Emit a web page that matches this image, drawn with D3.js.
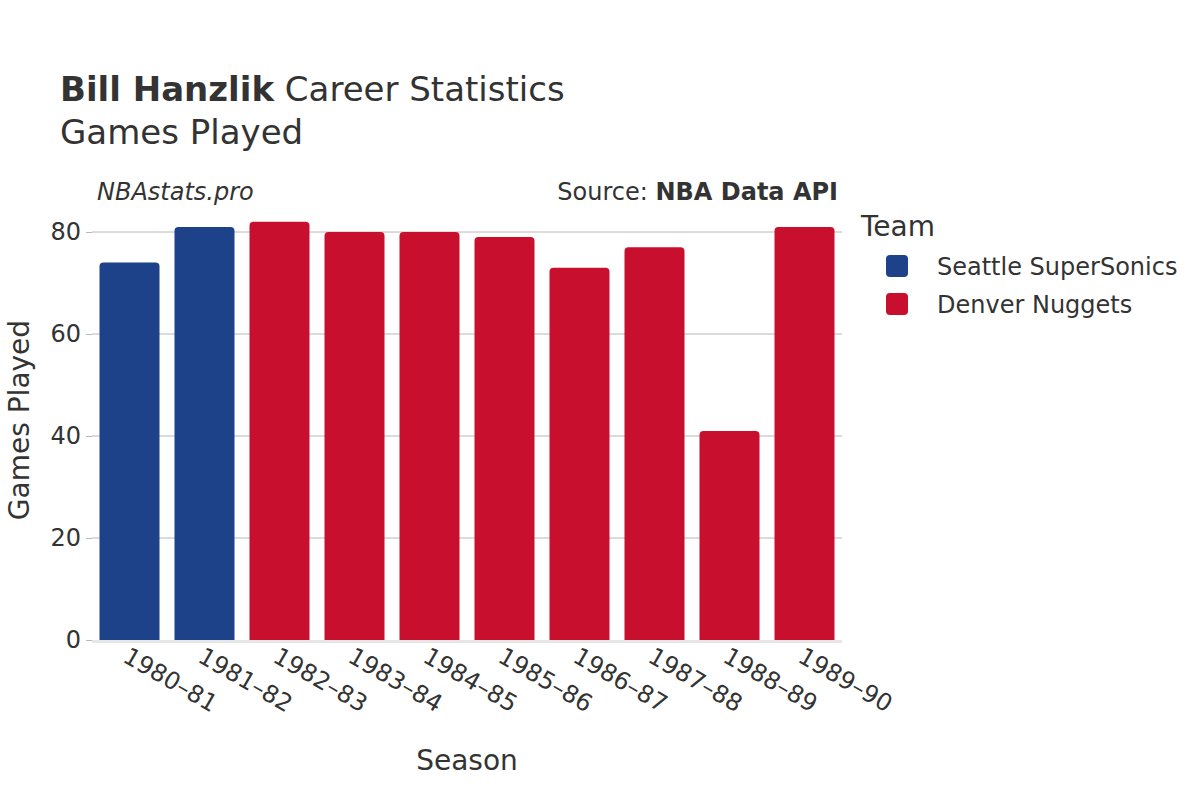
<!DOCTYPE html>
<html><head><meta charset="utf-8">
<script src="https://cdn.jsdelivr.net/npm/d3@7"></script>
<style>body{margin:0;background:#fff}svg{font-family:"DejaVu Sans",sans-serif}</style>
</head><body><svg id="c" width="1200" height="800"></svg>
<script>
const seasons = ["1980-81","1981-82","1982-83","1983-84","1984-85","1985-86","1986-87","1987-88","1988-89","1989-90"];
const teams = ["SEA","SEA","DEN","DEN","DEN","DEN","DEN","DEN","DEN","DEN"];
const games = [74,81,82,80,80,79,73,77,41,81];
const teamNames = ["Seattle SuperSonics","Denver Nuggets"];
const teamKeys = ["SEA","DEN"];
const teamColors = ["#1d428a","#c8102e"];
const yTicks = [0,20,40,60,80];

const svg = d3.select("#c");
const L=92,R=842,B=640;
const x = d3.scaleBand().domain(seasons).range([L,R]).paddingInner(0.2).paddingOuter(0.1);
const y = d3.scaleLinear().domain([0,80]).range([B,232]);
const color = d3.scaleOrdinal().domain(teamKeys).range(teamColors);

// grid
svg.append("g").selectAll("line").data(yTicks.filter(d=>d>0)).join("line")
  .attr("x1",L).attr("x2",R).attr("y1",d=>y(d)).attr("y2",d=>y(d))
  .attr("stroke","#b8b8b8").attr("stroke-width",1);
// y ticks
const ya = svg.append("g").attr("transform",`translate(${L},0)`)
  .call(d3.axisLeft(y).tickValues(yTicks).tickSize(6).tickPadding(5));
ya.select(".domain").remove();
ya.selectAll("line").attr("stroke","#b8b8b8");
ya.selectAll("text").attr("font-size",24).attr("fill","#333").attr("font-family","DejaVu Sans");

// bars
const rr=4;
svg.append("g").selectAll("path").data(seasons).join("path")
  .attr("fill",(d,i)=>color(teams[i]))
  .attr("d",(d,i)=>{
    const x0=x(d), w=x.bandwidth(), y0=y(games[i]), yb=y(0);
    return `M${x0},${yb}V${y0+rr}Q${x0},${y0} ${x0+rr},${y0}H${x0+w-rr}Q${x0+w},${y0} ${x0+w},${y0+rr}V${yb}Z`;
  });
// zero line
svg.append("line").attr("x1",L).attr("x2",R).attr("y1",y(0)+1.5).attr("y2",y(0)+1.5)
  .attr("stroke","#e6e6e6").attr("stroke-width",3);

// x labels
svg.append("g").selectAll("text").data(seasons).join("text")
  .attr("transform",d=>`translate(${x(d)+x.bandwidth()/2-8},${661}) rotate(30)`)
  .attr("font-size",24).attr("fill","#333").attr("text-anchor","start")
  .text(d=>d.replace("-","–"));

// axis titles
svg.append("text").attr("x",(L+R)/2).attr("y",770).attr("text-anchor","middle")
  .attr("font-size",28).attr("fill","#333").text("Season");
svg.append("text").attr("transform",`translate(29,420) rotate(-90)`).attr("text-anchor","middle")
  .attr("font-size",28).attr("fill","#333").text("Games Played");

// titles
const t = svg.append("text").attr("x",60).attr("y",101).attr("font-size",34).attr("fill","#333");
t.append("tspan").attr("font-weight","bold").text("Bill Hanzlik");
t.append("tspan").text(" Career Statistics");
svg.append("text").attr("x",60).attr("y",144).attr("font-size",34).attr("fill","#333").text("Games Played");
svg.append("text").attr("x",97).attr("y",200).attr("font-size",24).attr("font-style","italic").attr("fill","#333").text("NBAstats.pro");
const s = svg.append("text").attr("x",838).attr("y",200).attr("font-size",24).attr("text-anchor","end").attr("fill","#333");
s.append("tspan").text("Source: ");
s.append("tspan").attr("font-weight","bold").text("NBA Data API");

// legend
svg.append("text").attr("x",861).attr("y",236).attr("font-size",28).attr("fill","#333").text("Team");
const lg = svg.append("g").selectAll("g").data(teamNames).join("g")
  .attr("transform",(d,i)=>`translate(886,${255+i*38})`);
lg.append("rect").attr("width",22).attr("height",22).attr("rx",4).attr("fill",(d,i)=>teamColors[i]);
lg.append("text").attr("x",51).attr("y",20).attr("font-size",24).attr("fill","#333").text(d=>d);
</script></body></html>
